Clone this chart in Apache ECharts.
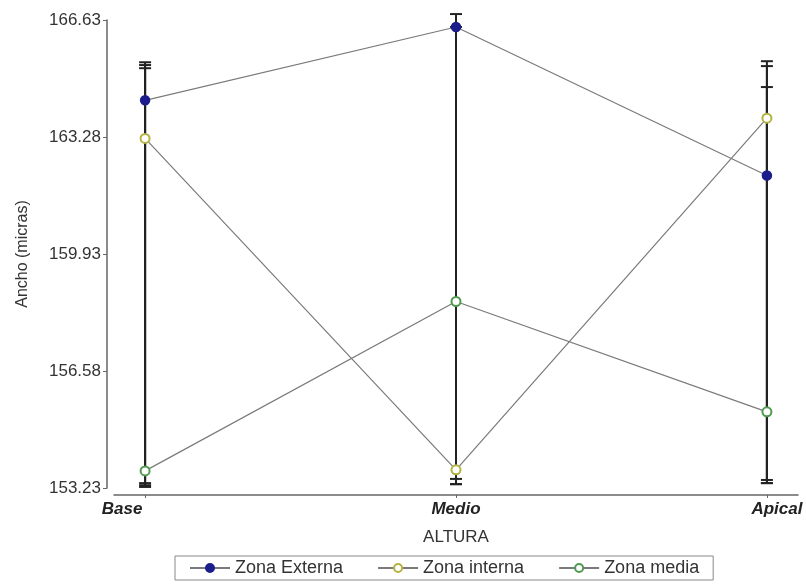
<!DOCTYPE html>
<html>
<head>
<meta charset="utf-8">
<script src="https://cdn.jsdelivr.net/npm/echarts@6/dist/echarts.min.js"></script>
<style>
  html, body { margin: 0; padding: 0; background: #fff; }
  #chart { width: 806px; height: 584px; }
</style>
</head>
<body>
<div id="chart"></div>
<script>
// categorias del eje X
const categories = ['Base', 'Medio', 'Apical'];
const yTicks = [153.23, 156.58, 159.93, 163.28, 166.63];

// medias por zona
const externa = [164.33, 166.43, 162.18];
const interna = [163.24, 153.75, 163.82];
const media = [153.72, 158.57, 155.41];

// barras de error (limite inferior / superior)
const externaLow = [153.26, 153.34, 153.37];
const externaHigh = [165.42, 166.80, 164.71];
const internaLow = [153.31, 153.49, 153.46];
const internaHigh = [165.34, 166.43, 165.45];
const mediaLow = [153.37, 153.34, 153.37];
const mediaHigh = [165.25, 166.43, 165.31];

const chart = echarts.init(document.getElementById('chart'));

const toPoints = (arr) => arr.map((v, i) => [i, v]);
const toBars = (lo, hi) => lo.map((v, i) => [i, v, hi[i]]);

// dibuja la barra vertical con sus topes
const renderErr = (params, api) => {
  const x = api.value(0);
  const lo = api.coord([x, api.value(1)]);
  const hi = api.coord([x, api.value(2)]);
  const cap = 6;
  const style = { stroke: '#222', lineWidth: 2 };
  return {
    type: 'group',
    children: [
      { type: 'line', shape: { x1: lo[0], y1: lo[1], x2: hi[0], y2: hi[1] }, style },
      { type: 'line', shape: { x1: hi[0] - cap, y1: hi[1], x2: hi[0] + cap, y2: hi[1] }, style },
      { type: 'line', shape: { x1: lo[0] - cap, y1: lo[1], x2: lo[0] + cap, y2: lo[1] }, style }
    ]
  };
};

const errSeries = (name, lo, hi) => ({
  name,
  type: 'custom',
  renderItem: renderErr,
  data: toBars(lo, hi),
  clip: false,
  z: 1,
  silent: true
});

const lineSeries = (name, data, symbol, color) => ({
  name,
  type: 'line',
  data: toPoints(data),
  symbol,
  symbolSize: 9,
  z: 3,
  lineStyle: { color: '#7a7a7a', width: 1.2 },
  itemStyle: { color: color, borderColor: color, borderWidth: 1.5 }
});

const fontFam = 'Liberation Sans, Arial';

const option = {
  animation: false,
  backgroundColor: '#fff',
  grid: { left: 114, right: 8, top: 20, bottom: 96 },
  legend: {
    data: ['Zona Externa', 'Zona interna', 'Zona media'],
    left: 175,
    top: 556,
    orient: 'horizontal',
    itemWidth: 40,
    itemHeight: 10,
    itemGap: 34,
    padding: [3, 14],
    borderColor: '#888',
    borderWidth: 1,
    textStyle: { fontFamily: fontFam, fontSize: 18, color: '#333' }
  },
  xAxis: {
    type: 'value',
    min: -0.1,
    max: 2.1,
    offset: 7,
    name: 'ALTURA',
    nameLocation: 'middle',
    nameGap: 34,
    nameTextStyle: { fontFamily: fontFam, fontSize: 17, color: '#333' },
    splitLine: { show: false },
    axisLine: { onZero: false, lineStyle: { color: '#666', width: 1.5 } },
    axisTick: { customValues: [0, 1, 2], length: 3, lineStyle: { color: '#666' } },
    axisLabel: {
      customValues: [0, 1, 2],
      margin: 6,
      formatter: (v) => {
        const i = Math.round(v);
        return '{c' + i + '|' + categories[i] + '}';
      },
      rich: {
        c0: { fontFamily: fontFam, fontSize: 17, fontWeight: 'bold', fontStyle: 'italic', color: '#222', padding: [0, 46, 0, 0] },
        c1: { fontFamily: fontFam, fontSize: 17, fontWeight: 'bold', fontStyle: 'italic', color: '#222' },
        c2: { fontFamily: fontFam, fontSize: 17, fontWeight: 'bold', fontStyle: 'italic', color: '#222', padding: [0, 0, 0, 20] }
      }
    }
  },
  yAxis: {
    type: 'value',
    min: yTicks[0],
    max: yTicks[yTicks.length - 1],
    offset: 7,
    name: 'Ancho (micras)',
    nameLocation: 'middle',
    nameGap: 76,
    nameTextStyle: { fontFamily: fontFam, fontSize: 16, color: '#333' },
    splitLine: { show: false },
    axisLine: { show: true, onZero: false, lineStyle: { color: '#666', width: 1.5 } },
    axisTick: { show: true, customValues: yTicks, length: 4, lineStyle: { color: '#666' } },
    axisLabel: {
      customValues: yTicks,
      margin: 6,
      formatter: (v) => v.toFixed(2),
      fontFamily: fontFam,
      fontSize: 17,
      color: '#333'
    }
  },
  series: [
    errSeries('err-externa', externaLow, externaHigh),
    errSeries('err-interna', internaLow, internaHigh),
    errSeries('err-media', mediaLow, mediaHigh),
    lineSeries('Zona Externa', externa, 'circle', '#1c1c8c'),
    lineSeries('Zona interna', interna, 'emptyCircle', '#b3b340'),
    lineSeries('Zona media', media, 'emptyCircle', '#4f9a4f')
  ]
};

chart.setOption(option);
</script>
</body>
</html>
